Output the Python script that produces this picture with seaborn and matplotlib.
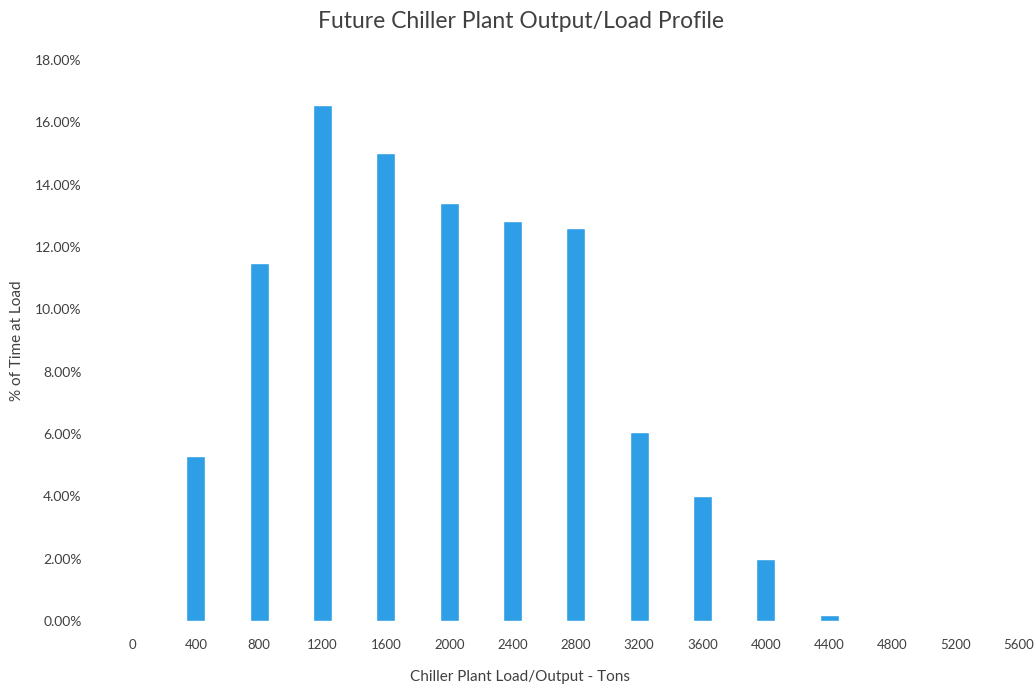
import matplotlib
matplotlib.use("Agg")
import matplotlib.pyplot as plt
from matplotlib.ticker import FuncFormatter
import seaborn as sns
import pandas as pd

# Load bins (tons) and share of operating hours at each bin (%)
loads = [0, 400, 800, 1200, 1600, 2000, 2400, 2800, 3200, 3600, 4000, 4400, 4800, 5200, 5600]
pct_time = [0.0, 5.3, 11.5, 16.57, 15.03, 13.4, 12.82, 12.6, 6.06, 4.0, 2.0, 0.18, 0.0, 0.0, 0.0]

df = pd.DataFrame({"load": [str(v) for v in loads], "pct": pct_time})

sns.set_theme(style="white")
plt.rcParams["font.family"] = ["Lato", "DejaVu Sans"]

fig = plt.figure(figsize=(10.34, 6.87), dpi=100)
W, H = 1034, 687
ax = fig.add_axes([101 / W, (H - 621) / H, (W - 101) / W, 561 / H])

sns.barplot(data=df, x="load", y="pct", color="#2E9FE6", saturation=1,
            width=0.3, ax=ax)

ax.set_ylim(0, 18)
ax.set_xlim(-0.5, 14.236)
ax.set_yticks(range(0, 19, 2))
ax.yaxis.set_major_formatter(FuncFormatter(lambda v, p: f"{v:.2f}%"))
for s in ax.spines.values():
    s.set_visible(False)
ax.grid(False)
ax.tick_params(axis="both", length=0, labelcolor="#404040")
ax.tick_params(axis="y", pad=14, labelsize=10)
ax.tick_params(axis="x", pad=13, labelsize=9.5)

ax.set_xlabel("")
ax.set_ylabel("% of Time at Load", fontsize=11, color="#404040", labelpad=8)
fig.text(520 / W, 1 - 677 / H, "Chiller Plant Load/Output - Tons", fontsize=11,
         color="#404040", ha="center", va="center")
fig.suptitle("Future Chiller Plant Output/Load Profile", fontsize=16.5, color="#404040",
             x=521 / W, y=1 - 22 / H, va="center")

fig.savefig("out.png", dpi=100, facecolor="white")
